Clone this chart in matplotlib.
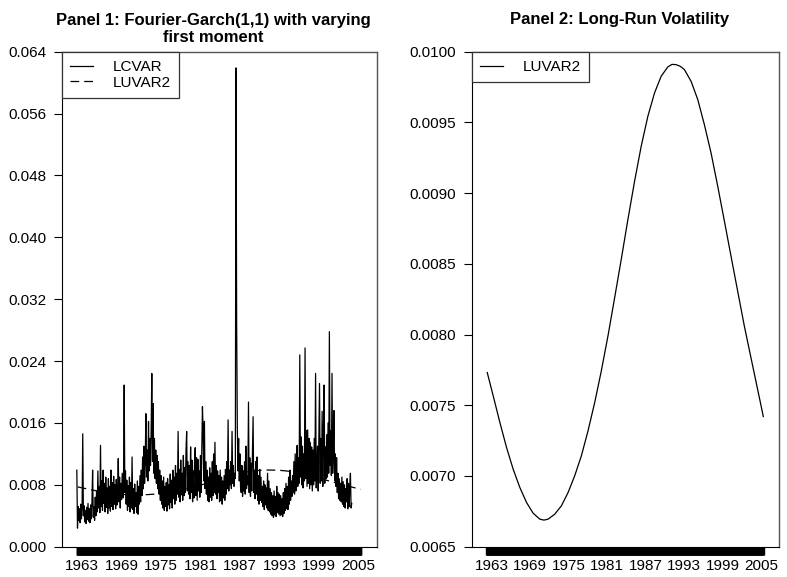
import numpy as np
import matplotlib
matplotlib.use("Agg")
import matplotlib.pyplot as plt
from matplotlib.ticker import FixedLocator, FormatStrFormatter

plt.rcParams["font.family"] = ["Liberation Sans", "DejaVu Sans"]

# long-run (Fourier) variance component LUVAR2
luvar2_years = [1962.32, 1963.25, 1964.29, 1965.33, 1966.36, 1967.40, 1968.44,
                1969.47, 1970.51, 1971.16, 1971.81, 1972.84, 1973.88, 1974.92,
                1975.95, 1976.99, 1978.03, 1979.07, 1980.10, 1981.14, 1982.18,
                1983.21, 1984.25, 1985.29, 1986.32, 1987.36, 1988.40, 1989.43,
                1990.47, 1991.12, 1991.77, 1992.42, 1993.06, 1994.10, 1995.14,
                1996.17, 1997.21, 1998.25, 1999.29, 2000.32, 2001.36, 2002.40,
                2003.43, 2004.47, 2005.36]
luvar2 = [0.007731, 0.007566, 0.007378, 0.007201, 0.007048, 0.006919, 0.006813,
          0.006737, 0.006695, 0.006688, 0.006695, 0.006730, 0.006789, 0.006883,
          0.007001, 0.007142, 0.007319, 0.007519, 0.007742, 0.007990, 0.008260,
          0.008531, 0.008814, 0.009084, 0.009331, 0.009543, 0.009708, 0.009826,
          0.009892, 0.009910, 0.009908, 0.009896, 0.009873, 0.009790, 0.009661,
          0.009484, 0.009284, 0.009049, 0.008802, 0.008555, 0.008307, 0.008060,
          0.007837, 0.007613, 0.007420]

# conditional variance LCVAR, one value every 0.1 year from 1962.2
lcvar_start = 1962.2
lcvar_step = 0.1
lcvar = [
    0.0099, 0.0024, 0.0052, 0.0034, 0.0049, 0.0031, 0.0055, 0.0036, 0.0050, 0.0146,
    0.0040, 0.0053, 0.0032, 0.0047, 0.0030, 0.0051, 0.0035, 0.0056, 0.0033, 0.0049,
    0.0031, 0.0054, 0.0036, 0.0058, 0.0099, 0.0038, 0.0052, 0.0034, 0.0064, 0.0040,
    0.0072, 0.0045, 0.0098, 0.0050, 0.0078, 0.0044, 0.0131, 0.0052, 0.0085, 0.0047,
    0.0099, 0.0056, 0.0082, 0.0045, 0.0090, 0.0051, 0.0076, 0.0043, 0.0088, 0.0050,
    0.0078, 0.0046, 0.0099, 0.0052, 0.0083, 0.0048, 0.0091, 0.0055, 0.0080, 0.0049,
    0.0087, 0.0054, 0.0072, 0.0114, 0.0058, 0.0090, 0.0050, 0.0082, 0.0061, 0.0095,
    0.0063, 0.0088, 0.0209, 0.0070, 0.0098, 0.0055, 0.0086, 0.0047, 0.0079, 0.0052,
    0.0090, 0.0045, 0.0083, 0.0050, 0.0116, 0.0048, 0.0075, 0.0043, 0.0081, 0.0052,
    0.0070, 0.0044, 0.0085, 0.0042, 0.0078, 0.0055, 0.0092, 0.0058, 0.0099, 0.0066,
    0.0116, 0.0075, 0.0130, 0.0082, 0.0110, 0.0172, 0.0090, 0.0125, 0.0085, 0.0162,
    0.0098, 0.0140, 0.0105, 0.0150, 0.0224, 0.0110, 0.0185, 0.0095, 0.0140, 0.0088,
    0.0125, 0.0082, 0.0118, 0.0075, 0.0110, 0.0068, 0.0099, 0.0060, 0.0092, 0.0055,
    0.0085, 0.0050, 0.0090, 0.0047, 0.0078, 0.0052, 0.0083, 0.0046, 0.0088, 0.0054,
    0.0080, 0.0049, 0.0094, 0.0057, 0.0086, 0.0050, 0.0099, 0.0062, 0.0090, 0.0055,
    0.0105, 0.0060, 0.0095, 0.0068, 0.0149, 0.0064, 0.0100, 0.0058, 0.0112, 0.0067,
    0.0095, 0.0060, 0.0118, 0.0066, 0.0102, 0.0070, 0.0125, 0.0149, 0.0072, 0.0110,
    0.0068, 0.0105, 0.0062, 0.0129, 0.0070, 0.0112, 0.0058, 0.0098, 0.0063, 0.0108,
    0.0128, 0.0066, 0.0115, 0.0060, 0.0113, 0.0072, 0.0098, 0.0064, 0.0118, 0.0070,
    0.0130, 0.0181, 0.0150, 0.0085, 0.0162, 0.0075, 0.0110, 0.0068, 0.0099, 0.0060,
    0.0090, 0.0058, 0.0102, 0.0064, 0.0095, 0.0060, 0.0110, 0.0066, 0.0120, 0.0070,
    0.0135, 0.0068, 0.0105, 0.0062, 0.0098, 0.0070, 0.0092, 0.0058, 0.0099, 0.0060,
    0.0090, 0.0055, 0.0085, 0.0063, 0.0092, 0.0060, 0.0100, 0.0068, 0.0110, 0.0075,
    0.0164, 0.0072, 0.0099, 0.0080, 0.0110, 0.0075, 0.0149, 0.0082, 0.0105, 0.0078,
    0.0095, 0.0088, 0.0619, 0.0290, 0.0155, 0.0098, 0.0140, 0.0085, 0.0120, 0.0075,
    0.0070, 0.0105, 0.0065, 0.0098, 0.0072, 0.0110, 0.0068, 0.0130, 0.0075, 0.0092,
    0.0080, 0.0187, 0.0070, 0.0115, 0.0065, 0.0108, 0.0072, 0.0120, 0.0168, 0.0070,
    0.0099, 0.0062, 0.0110, 0.0068, 0.0116, 0.0060, 0.0092, 0.0055, 0.0100, 0.0060,
    0.0090, 0.0057, 0.0078, 0.0052, 0.0085, 0.0048, 0.0080, 0.0054, 0.0076, 0.0050,
    0.0095, 0.0047, 0.0085, 0.0045, 0.0075, 0.0042, 0.0070, 0.0040, 0.0066, 0.0038,
    0.0072, 0.0041, 0.0065, 0.0039, 0.0078, 0.0044, 0.0070, 0.0042, 0.0068, 0.0040,
    0.0066, 0.0041, 0.0062, 0.0039, 0.0070, 0.0043, 0.0075, 0.0047, 0.0082, 0.0049,
    0.0078, 0.0048, 0.0090, 0.0055, 0.0099, 0.0060, 0.0085, 0.0065, 0.0092, 0.0070,
    0.0110, 0.0068, 0.0120, 0.0072, 0.0095, 0.0131, 0.0078, 0.0115, 0.0082, 0.0248,
    0.0090, 0.0142, 0.0080, 0.0130, 0.0076, 0.0120, 0.0085, 0.0257, 0.0088, 0.0150,
    0.0078, 0.0151, 0.0082, 0.0140, 0.0075, 0.0135, 0.0080, 0.0129, 0.0072, 0.0125,
    0.0080, 0.0140, 0.0085, 0.0224, 0.0076, 0.0099, 0.0130, 0.0072, 0.0140, 0.0211,
    0.0082, 0.0140, 0.0085, 0.0175, 0.0078, 0.0150, 0.0209, 0.0082, 0.0129, 0.0088,
    0.0145, 0.0090, 0.0160, 0.0095, 0.0278, 0.0105, 0.0150, 0.0092, 0.0224, 0.0095,
    0.0130, 0.0176, 0.0085, 0.0120, 0.0078, 0.0115, 0.0070, 0.0095, 0.0062, 0.0088,
    0.0060, 0.0082, 0.0058, 0.0090, 0.0055, 0.0084, 0.0052, 0.0080, 0.0050, 0.0075,
    0.0058, 0.0088, 0.0049, 0.0082, 0.0052, 0.0078, 0.0095, 0.0050, 0.0056,
]

year_labels = [1963, 1969, 1975, 1981, 1987, 1993, 1999, 2005]
sample_first, sample_last = 1962.2, 2005.4

lcvar_years = lcvar_start + lcvar_step * np.arange(len(lcvar))

fig = plt.figure(figsize=(7.87, 5.77), dpi=100)
ax1 = fig.add_axes([0.0784, 0.0525, 0.4003, 0.858])
ax2 = fig.add_axes([0.5994, 0.0525, 0.3904, 0.858])


def style_axis(ax):
    ax.set_xlim(1959.9, 2007.8)
    ax.xaxis.set_major_locator(FixedLocator(year_labels))
    # one tick per observation gives the solid bar under the plot
    ax.xaxis.set_minor_locator(FixedLocator(np.arange(sample_first, sample_last, 0.05)))
    ax.tick_params(axis="x", which="both", length=5.8, width=1.0, color="black",
                   pad=3, labelsize=11)
    ax.tick_params(axis="y", length=5.8, width=0.8, pad=5.5, labelsize=11)
    for side in ["left", "bottom"]:
        ax.spines[side].set_color("black")
        ax.spines[side].set_linewidth(0.8)
    for side in ["top", "right"]:
        ax.spines[side].set_color("#555555")
        ax.spines[side].set_linewidth(1.0)


def add_legend(ax):
    leg = ax.legend(loc="upper left", borderaxespad=0, fancybox=False,
                    edgecolor="#333333", framealpha=1, fontsize=11,
                    handlelength=1.5, handletextpad=1.3, borderpad=0.55,
                    labelspacing=0.1)
    leg.get_frame().set_linewidth(0.9)
    return leg


# Panel 1
ax1.plot(lcvar_years, lcvar, color="black", lw=0.9, label="LCVAR")
ax1.plot(luvar2_years, luvar2, color="black", lw=0.9, dashes=(7, 4), label="LUVAR2")
ax1.set_ylim(0, 0.064)
ax1.set_yticks(np.arange(0, 0.0641, 0.008))
ax1.yaxis.set_major_formatter(FormatStrFormatter("%.3f"))
style_axis(ax1)
ax1.set_title("Panel 1: Fourier-Garch(1,1) with varying\nfirst moment",
              fontsize=12, fontweight="bold", x=0.482, pad=7, linespacing=1.2)
add_legend(ax1)

# Panel 2
ax2.plot(luvar2_years, luvar2, color="black", lw=0.9, label="LUVAR2")
ax2.set_ylim(0.0065, 0.0100)
ax2.set_yticks(np.arange(0.0065, 0.01001, 0.0005))
ax2.yaxis.set_major_formatter(FormatStrFormatter("%.4f"))
style_axis(ax2)
ax2.set_title("Panel 2: Long-Run Volatility", fontsize=12, fontweight="bold",
              x=0.482, pad=20)
add_legend(ax2)

fig.savefig("out.png", dpi=100)
